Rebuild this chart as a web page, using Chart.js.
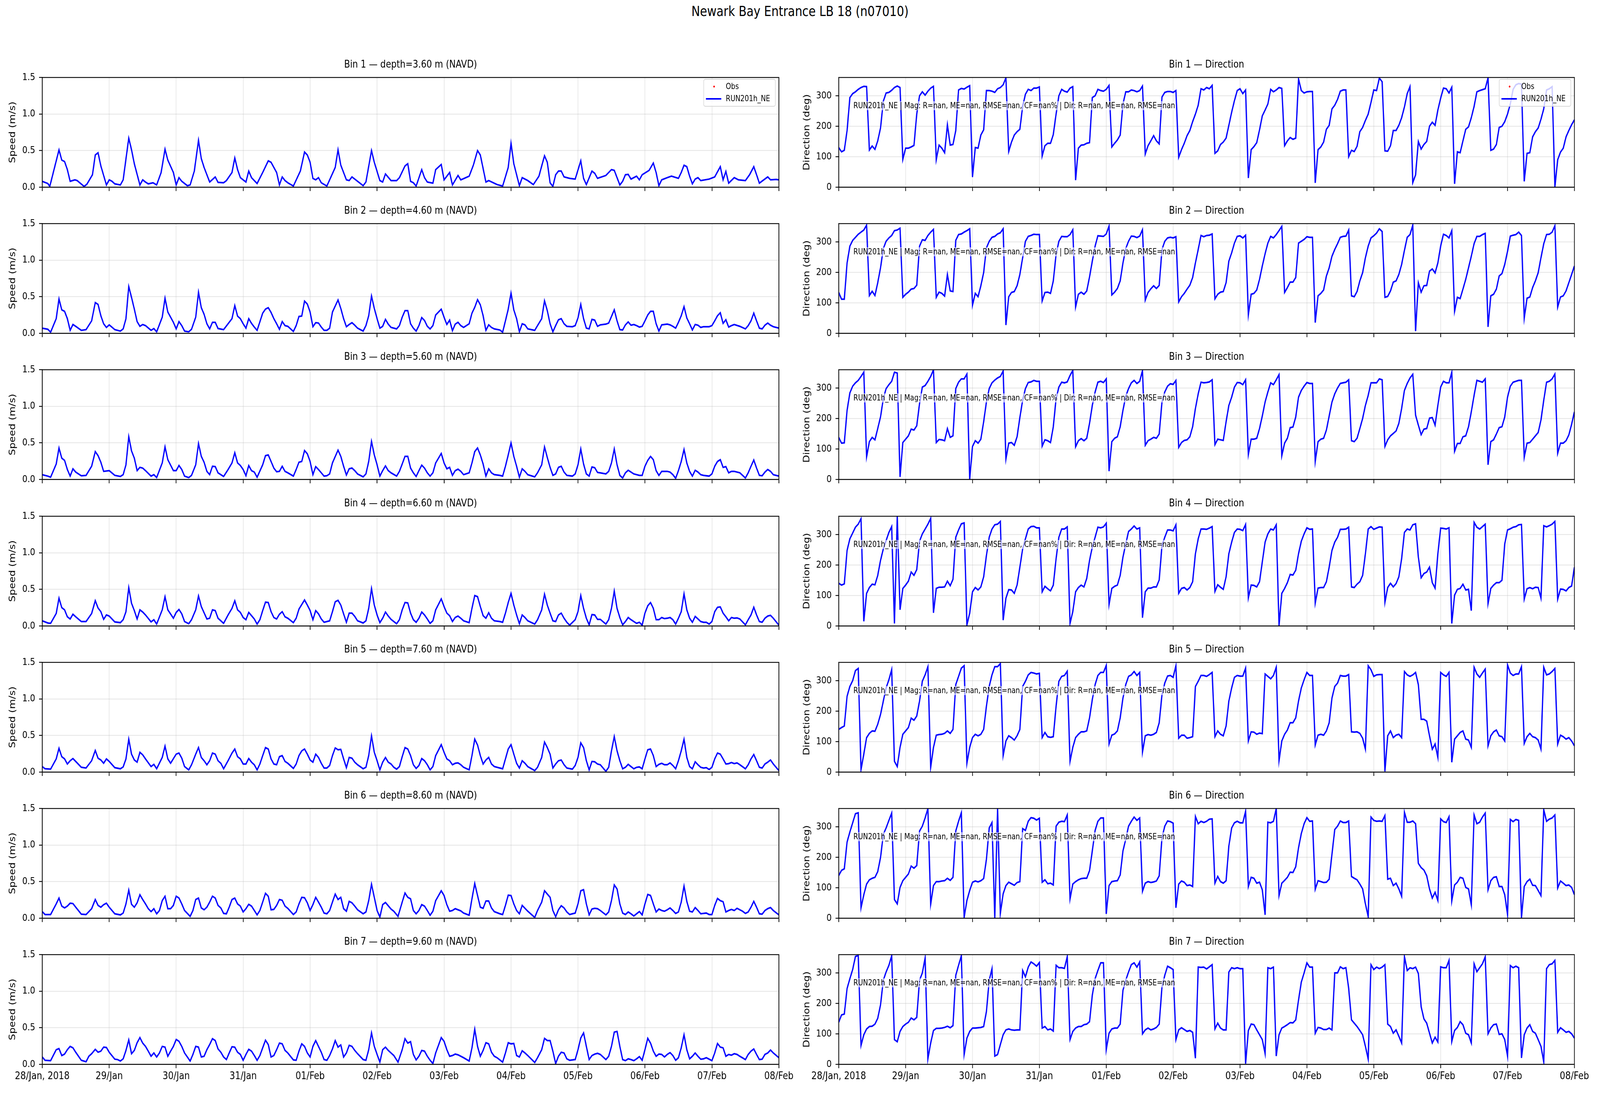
<!DOCTYPE html>
<html>
<head>
<meta charset="utf-8">
<script src="https://cdn.jsdelivr.net/npm/chart.js@4.4.1/dist/chart.umd.min.js"></script>
<style>
  html, body { margin: 0; padding: 0; background: #fff; overflow: hidden; }
  #wrap { position: relative; overflow: hidden; background: #fff; }
  #fig { position: absolute; left: 0; top: 0; width: 5000px; height: 2800px; background: #fff;
         transform-origin: 0 0; font-family: 'DejaVu Sans', sans-serif; color: #000; }
  #fig canvas { position: absolute; }
  .txt { position: absolute; white-space: nowrap; line-height: 1; }
  .legend { position: absolute; box-sizing: border-box; background: rgba(255,255,255,0.8);
            border: 2px solid rgba(204,204,204,0.8); border-radius: 6px; padding-top: 2px; }
  .lrow { position: relative; height: 31px; font-size: 21px; line-height: 31px; }
  .lrow span.lab { position: absolute; left: 68px; }
  .dot { position: absolute; left: 29px; top: 13px; width: 5px; height: 5px; border-radius: 50%; background: #ff0000; }
  .lline { position: absolute; left: 6px; top: 14px; width: 48px; height: 4px; background: #0000ff; }
  .stats { position: absolute; white-space: nowrap; font-size: 21px; line-height: 1;
           background: rgba(255,255,255,0.6); padding: 1px 2px; }
</style>
</head>
<body>
<div id="wrap"><div id="fig"></div></div>
<script>
// Labels / text
const figTitle = 'Newark Bay Entrance LB 18 (n07010)'
const bins = [1, 2, 3, 4, 5, 6, 7]
const depths = [3.60, 4.60, 5.60, 6.60, 7.60, 8.60, 9.60]
const dayTicks = [0, 24, 48, 72, 96, 120, 144, 168, 192, 216, 240, 264]
const tickLabels = ['28/Jan, 2018', '29/Jan', '30/Jan', '31/Jan', '01/Feb', '02/Feb', '03/Feb',
  '04/Feb', '05/Feb', '06/Feb', '07/Feb', '08/Feb']
const speedTicks = [0, 0.5, 1.0, 1.5]
const dirTicks = [0, 100, 200, 300]
const legendLabels = ['Obs', 'RUN201h_NE']
const statsText = 'RUN201h_NE | Mag: R=nan, ME=nan, RMSE=nan, CF=nan% | Dir: R=nan, ME=nan, RMSE=nan'

// Speed (m/s): [hour since 28/Jan 00:00, value]
const speedBin1 = [[0,.08],[2,.05],[2.7,.01],[6,.51],[7,.37],[8,.35],[9,.24],[10,.08],[11.7,.1],[12.5,.09],[15,.01],[16,.04],[18,.17],[19,.44],[20,.47],[21,.29],[23,.03],[24,.1],[25,.08],[26,.045],[28,.03],[29,.1],[31,.67],[32,.51],[33,.32],[35,.03],[36,.1],[37,.07],[38,.045],[39.7,.06],[41,.03],[42.6,.2],[44,.52],[45,.37],[47,.2],[48,.03],[49,.13],[50,.08],[52,.02],[53,.03],[54.5,.22],[56,.64],[57,.39],[58,.27],[60,.07],[62,.14],[63,.065],[65,.06],[66,.09],[68,.2],[69,.4],[70,.24],[71,.13],[73,.07],[74,.22],[75,.13],[77,.05],[79,.2],[81,.36],[82,.34],[84,.2],[85,.03],[86,.14],[87,.09],[88,.06],[90,.015],[92.5,.22],[94,.48],[95,.44],[96,.34],[97,.12],[98,.1],[99,.13],[100,.06],[102,.015],[105,.27],[106,.51],[107,.3],[109,.1],[110,.09],[111,.14],[112,.11],[115,.02],[116,.07],[118,.5],[119,.34],[121,.09],[122,.07],[123,.18],[125,.09],[127,.09],[128,.13],[130,.29],[131,.32],[132,.08],[133,.06],[134,.015],[136,.24],[137,.13],[138,.07],[140,.055],[141,.24],[143,.31],[144,.1],[146,.2],[147,.03],[149,.16],[150,.1],[153,.15],[154.5,.3],[156,.5],[157,.44],[159,.07],[160,.09],[163,.035],[165,.015],[167,.27],[168,.6],[169,.32],[171,.02],[172,.13],[174,.09],[176,.035],[178,.15],[180,.43],[181,.34],[182,.06],[183,.01],[184,.17],[185,.22],[186,.22],[187,.14],[189,.12],[191,.11],[193,.36],[194,.12],[195,.035],[197,.22],[198,.19],[199,.12],[202,.16],[204,.24],[205,.23],[207,.03],[208,.08],[209,.17],[210,.175],[211,.11],[213,.15],[214,.1],[215,.17],[217.5,.23],[219,.33],[220,.2],[221,.02],[222,.1],[224,.13],[225.5,.15],[228,.12],[229,.2],[230,.3],[231,.28],[232,.15],[233,.045],[234,.11],[235,.13],[236,.09],[239,.11],[241,.14],[243,.28],[244,.1],[245,.215],[246,.055],[248,.13],[249.5,.1],[252,.09],[253.5,.17],[255,.28],[256,.17],[257,.055],[260,.14],[261,.1],[263,.105],[264,.1]]
const speedBin2 = [[0,.07],[2,.055],[3,.015],[5,.2],[6,.47],[7,.32],[8,.3],[9,.2],[10,.04],[11,.12],[12,.095],[14,.04],[15.7,.05],[17.7,.17],[19,.42],[20,.395],[21,.24],[22,.13],[23,.08],[24,.115],[26,.05],[28,.03],[29,.06],[30,.2],[31,.64],[32,.49],[33,.33],[34,.16],[35,.095],[36,.12],[37,.105],[39,.04],[40,.065],[41,.02],[43,.22],[44,.48],[45,.29],[47,.15],[48,.06],[49,.16],[50,.105],[51,.03],[52.5,.02],[53.5,.055],[55,.22],[56,.56],[57,.35],[58,.26],[59,.13],[60,.06],[61,.15],[62,.15],[63,.065],[65,.05],[66.6,.13],[68,.2],[69,.38],[70,.235],[71,.2],[72,.13],[73,.07],[74,.2],[75,.135],[76,.085],[77,.04],[79,.275],[80,.33],[81,.35],[82,.285],[83,.2],[84,.13],[85,.055],[86,.16],[87,.105],[88,.095],[90,.025],[91,.105],[92,.23],[93,.235],[94,.44],[95,.4],[96,.29],[97,.09],[98,.145],[99,.14],[100,.085],[101,.04],[102,.04],[103,.07],[104,.29],[106,.455],[107,.34],[108,.2],[109,.09],[110,.12],[111,.145],[112,.11],[113,.07],[115,.03],[116,.105],[117,.24],[118,.51],[119,.34],[120,.2],[121,.07],[122,.095],[123,.19],[124,.125],[125,.08],[127,.06],[128,.105],[129,.22],[130,.31],[131,.31],[132,.13],[133,.07],[134,.03],[135,.105],[136,.215],[137,.175],[138,.095],[139,.06],[140,.105],[141,.25],[143,.33],[144,.22],[145,.12],[146,.18],[147,.035],[148,.125],[149,.15],[150,.105],[151,.08],[153,.13],[154,.275],[155,.355],[156,.46],[157,.39],[158,.24],[159,.04],[160,.115],[161,.08],[162,.06],[164,.045],[165,.015],[166,.17],[167,.33],[168,.55],[169,.32],[170,.2],[171,.02],[172,.13],[173,.115],[174,.06],[176.5,.04],[177.5,.105],[179,.2],[180,.445],[181,.31],[182,.13],[183,.02],[184,.105],[185,.185],[186,.2],[187,.13],[188,.095],[190,.09],[191,.105],[192,.21],[193,.395],[194,.2],[195,.07],[196,.06],[197,.19],[198,.18],[199,.095],[200,.115],[202,.125],[203,.14],[204,.23],[205,.32],[206,.17],[207,.05],[208,.045],[209,.115],[210,.155],[211,.11],[212,.12],[213,.105],[214,.085],[215,.095],[216,.17],[217,.25],[218,.3],[219,.3],[220,.13],[221,.03],[222,.115],[224,.125],[225,.115],[226,.095],[227,.07],[228,.15],[229,.24],[230,.365],[231,.21],[232,.13],[233,.045],[234,.12],[235,.11],[236,.08],[237,.09],[239,.09],[240,.105],[241,.17],[242,.24],[243,.28],[244,.135],[245,.185],[246,.085],[247,.105],[248,.12],[250,.095],[252,.06],[253,.105],[254,.17],[255,.275],[256,.17],[257,.07],[258,.06],[259,.11],[260,.14],[261,.11],[262,.09],[264,.07]]
const speedBin3 = [[0,.065],[2,.045],[3,.03],[5,.21],[6,.43],[7,.29],[8,.26],[9,.135],[10,.045],[11,.145],[12,.1],[14,.05],[15.7,.055],[17.7,.18],[19,.38],[20,.325],[21,.235],[22,.11],[24,.12],[26,.055],[28,.04],[29,.065],[30,.2],[31,.585],[32,.39],[33,.29],[34,.12],[35,.165],[36,.155],[37,.12],[39,.045],[40,.065],[41,.025],[43,.225],[44,.445],[45,.27],[47,.12],[48,.12],[49,.19],[50,.135],[51,.045],[52.5,.025],[53.5,.055],[55,.2],[56,.49],[57,.315],[58,.235],[59,.11],[60,.065],[61,.18],[62,.175],[63,.09],[65,.04],[66.6,.135],[68,.225],[69,.365],[70,.225],[71,.19],[72,.135],[73,.05],[74,.19],[75,.12],[76,.1],[77,.03],[79,.2],[80,.325],[81,.335],[82,.245],[83,.155],[84,.105],[85,.11],[86,.18],[87,.11],[88,.09],[90,.045],[91,.135],[92,.235],[93,.245],[94,.395],[95,.35],[96,.245],[97,.065],[98,.175],[99,.135],[100,.09],[101,.045],[102,.05],[103,.075],[104,.225],[106,.4],[107,.315],[108,.18],[109,.06],[110,.145],[111,.155],[112,.12],[113,.075],[115,.035],[116,.075],[117,.245],[118,.52],[119,.335],[120,.2],[121,.045],[122,.12],[123,.185],[124,.12],[125,.09],[127,.045],[128,.11],[129,.21],[130,.315],[131,.315],[132,.155],[133,.09],[134,.04],[135,.12],[136,.195],[137,.155],[138,.09],[139,.045],[140,.09],[141,.225],[143,.355],[144,.225],[145,.145],[146,.165],[147,.055],[148,.12],[149,.14],[150,.11],[151,.065],[153,.09],[154,.225],[155,.38],[156,.43],[157,.335],[158,.21],[159,.045],[160,.145],[161,.09],[162,.065],[164,.055],[165,.045],[166,.18],[167,.335],[168,.5],[169,.315],[170,.18],[171,.03],[172,.145],[173,.11],[174,.065],[176.5,.035],[177.5,.09],[179,.2],[180,.445],[181,.3],[182,.165],[183,.055],[184,.075],[185,.165],[186,.18],[187,.1],[188,.055],[190,.045],[191,.075],[192,.2],[193,.415],[194,.21],[195,.075],[196,.045],[197,.17],[198,.16],[199,.095],[200,.09],[202,.075],[203,.11],[204,.225],[205,.415],[206,.2],[207,.055],[208,.02],[209,.09],[210,.125],[211,.1],[212,.075],[214,.055],[215,.055],[216,.18],[217,.26],[218,.315],[219,.27],[220,.12],[221,.055],[222,.11],[224,.11],[225,.1],[226,.065],[227,.015],[228,.12],[229,.245],[230,.41],[231,.225],[232,.11],[233,.045],[234,.125],[235,.1],[236,.065],[237,.055],[239,.045],[240,.075],[241,.18],[242,.245],[243,.27],[244,.165],[245,.175],[246,.09],[247,.11],[248,.11],[250,.09],[252,.02],[253,.09],[254,.18],[255,.265],[256,.155],[257,.055],[258,.05],[259,.1],[260,.135],[261,.11],[262,.065],[264,.045]]
const speedBin4 = [[0,.07],[2,.04],[3,.035],[5,.17],[6,.38],[7,.25],[8,.22],[9,.125],[10,.095],[11,.16],[12,.125],[14,.06],[15.7,.06],[17.7,.17],[19,.345],[20,.245],[21,.195],[22,.09],[23,.15],[24,.135],[26,.055],[28,.045],[29,.085],[30,.195],[31,.525],[32,.31],[33,.21],[34,.095],[35,.22],[36,.19],[37,.15],[39,.055],[40,.085],[41,.025],[43,.22],[44,.4],[45,.22],[47,.105],[48,.185],[49,.225],[50,.165],[51,.06],[52.5,.03],[53.5,.085],[55,.22],[56,.41],[57,.265],[59,.095],[60,.105],[61,.22],[62,.21],[63,.105],[65,.035],[66.6,.15],[68,.24],[69,.345],[70,.22],[71,.185],[72,.115],[73,.085],[74,.185],[75,.14],[76,.095],[77,.025],[78,.085],[79,.21],[80,.325],[81,.32],[82,.195],[83,.115],[84,.095],[85,.16],[86,.195],[87,.125],[88,.105],[90,.045],[91,.105],[92,.23],[94,.355],[95,.285],[96,.21],[97,.085],[98,.21],[99,.165],[100,.095],[101,.05],[103,.07],[104,.195],[105,.33],[106,.35],[107,.285],[108,.165],[109,.05],[110,.175],[111,.175],[112,.13],[113,.07],[115,.04],[116,.07],[117,.24],[118,.51],[119,.285],[120,.15],[121,.045],[122,.105],[123,.19],[124,.135],[125,.09],[127,.03],[128,.085],[129,.22],[130,.32],[131,.315],[132,.175],[133,.085],[134,.05],[135,.105],[136,.19],[137,.15],[138,.095],[139,.035],[140,.07],[141,.22],[143,.37],[144,.265],[145,.175],[146,.14],[147,.06],[148,.115],[149,.135],[150,.105],[151,.07],[153,.045],[154,.24],[155,.415],[156,.4],[157,.265],[158,.14],[159,.105],[160,.18],[161,.105],[162,.07],[164,.06],[165,.05],[166,.175],[167,.32],[168,.445],[169,.285],[170,.15],[171,.03],[172,.15],[173,.115],[174,.07],[176.5,.025],[177.5,.085],[179,.22],[180,.435],[181,.285],[182,.175],[183,.07],[184,.06],[185,.15],[186,.175],[187,.105],[188,.05],[189,.01],[191,.085],[192,.195],[193,.415],[194,.24],[195,.105],[196,.015],[197,.155],[198,.15],[199,.09],[200,.09],[202,.025],[203,.085],[204,.24],[205,.475],[206,.24],[207,.115],[208,.015],[209,.06],[210,.115],[211,.085],[212,.06],[213,.035],[214,.05],[215,.01],[216,.175],[217,.275],[218,.32],[219,.24],[220,.085],[221,.085],[222,.115],[223,.1],[224,.105],[225,.115],[226,.085],[227,.025],[228,.105],[229,.195],[230,.44],[231,.22],[232,.105],[233,.05],[234,.13],[235,.095],[236,.06],[237,.05],[238,.05],[239,.025],[240,.06],[241,.195],[242,.255],[243,.26],[244,.175],[245,.125],[246,.07],[247,.115],[248,.105],[249,.11],[250,.095],[252,.015],[253,.085],[254,.15],[255,.255],[256,.15],[257,.06],[258,.05],[259,.105],[260,.135],[261,.145],[262,.105],[264,.01]]
const speedBin5 = [[0,.075],[1,.045],[3,.04],[5,.18],[6,.325],[7,.21],[8,.18],[9,.11],[10,.155],[11,.185],[12,.145],[14,.065],[15.7,.055],[17.7,.155],[19,.295],[20,.19],[21,.165],[22,.12],[23,.18],[24,.145],[26,.06],[28,.045],[29,.07],[30,.18],[31,.45],[32,.245],[33,.165],[34,.135],[35,.27],[36,.235],[37,.18],[39,.075],[40,.105],[41,.045],[43,.2],[44,.355],[45,.18],[46,.12],[48,.245],[49,.26],[50,.19],[51,.075],[52.5,.03],[53.5,.1],[55,.245],[56,.335],[57,.2],[58,.155],[59,.1],[60,.155],[61,.26],[62,.245],[63,.155],[64,.12],[65,.045],[66.6,.155],[68,.26],[69,.315],[70,.21],[71,.18],[72,.11],[73,.11],[74,.185],[75,.135],[76,.1],[77,.03],[78,.11],[79,.225],[80,.335],[81,.315],[82,.18],[83,.11],[84,.1],[85,.21],[86,.225],[87,.145],[88,.12],[90,.05],[91,.11],[92,.225],[93,.29],[94,.315],[95,.245],[96,.165],[97,.135],[98,.245],[99,.2],[100,.12],[101,.055],[102,.055],[103,.09],[104,.225],[105,.33],[106,.305],[107,.31],[108,.18],[109,.06],[110,.2],[111,.19],[112,.135],[113,.1],[115,.045],[116,.065],[117,.225],[118,.495],[119,.27],[120,.155],[121,.03],[122,.135],[123,.2],[124,.135],[125,.11],[126,.065],[127,.04],[128,.075],[129,.21],[130,.335],[131,.315],[132,.225],[133,.1],[134,.05],[135,.09],[136,.185],[137,.155],[138,.1],[139,.03],[140,.075],[141,.225],[143,.375],[144,.27],[145,.18],[146,.155],[147,.1],[148,.12],[149,.125],[150,.1],[151,.065],[153,.03],[154,.225],[155,.45],[156,.37],[157,.225],[158,.11],[159,.165],[160,.2],[161,.11],[162,.075],[164,.055],[165,.045],[166,.18],[167,.315],[168,.375],[169,.245],[170,.12],[171,.055],[172,.155],[173,.12],[174,.075],[176.5,.02],[177.5,.065],[179,.2],[180,.41],[181,.335],[182,.245],[183,.055],[184,.11],[185,.155],[186,.165],[187,.1],[188,.055],[190,.04],[191,.09],[192,.2],[193,.4],[194,.335],[195,.155],[196,.03],[197,.145],[198,.14],[199,.11],[200,.1],[202,.01],[203,.065],[204,.29],[205,.485],[206,.29],[207,.155],[208,.045],[209,.065],[210,.105],[211,.075],[212,.045],[213,.065],[214,.07],[215,.045],[216,.18],[217,.305],[218,.315],[219,.225],[220,.075],[221,.105],[222,.12],[223,.1],[224,.1],[225,.125],[226,.09],[227,.045],[228,.155],[229,.29],[230,.45],[231,.2],[232,.075],[233,.045],[234,.14],[235,.1],[236,.065],[237,.055],[238,.06],[239,.035],[240,.065],[241,.18],[242,.26],[243,.245],[244,.18],[245,.11],[246,.115],[247,.13],[248,.115],[249,.125],[250,.1],[252,.045],[253,.1],[254,.18],[255,.24],[256,.155],[257,.065],[258,.055],[259,.11],[260,.135],[261,.165],[262,.11],[264,.02]]
const speedBin6 = [[0,.09],[1,.05],[3,.05],[5,.195],[6,.275],[7,.165],[8,.14],[9,.165],[10,.205],[11,.2],[12,.15],[14,.055],[15.7,.05],[17.7,.13],[19,.255],[20,.175],[21,.15],[22,.185],[23,.205],[24,.15],[26,.06],[28,.045],[29,.07],[30,.195],[31,.385],[32,.19],[33,.15],[34,.21],[35,.32],[36,.255],[37,.195],[38,.13],[39,.09],[40,.13],[41,.06],[42,.105],[43,.24],[44,.3],[45,.13],[46,.13],[47,.175],[48,.3],[49,.275],[50,.195],[51,.105],[53,.025],[54,.105],[55,.255],[56,.275],[57,.14],[58,.115],[59,.15],[60,.22],[61,.3],[62,.275],[63,.175],[64,.14],[65,.065],[66,.06],[67,.15],[68,.255],[69,.275],[70,.195],[71,.165],[72,.085],[73,.13],[74,.19],[75,.165],[76,.105],[77,.045],[78,.105],[79,.22],[80,.34],[81,.3],[82,.115],[83,.12],[84,.175],[85,.255],[86,.245],[87,.165],[88,.135],[90,.05],[91,.085],[92,.195],[93,.285],[94,.28],[95,.21],[96,.105],[97,.185],[98,.285],[99,.22],[100,.15],[101,.07],[102,.06],[103,.105],[104,.22],[105,.33],[106,.255],[107,.285],[108,.13],[109,.095],[110,.23],[111,.21],[112,.165],[113,.115],[115,.06],[116,.085],[117,.24],[118,.465],[119,.285],[120,.105],[121,.015],[122,.185],[123,.215],[124,.17],[125,.125],[126,.095],[127.5,.025],[129,.22],[130,.345],[131,.285],[132,.265],[133,.105],[134,.06],[135,.105],[136,.185],[137,.165],[138,.105],[139,.04],[140,.095],[141,.24],[143,.375],[144,.31],[145,.185],[146,.095],[147,.105],[148,.13],[149,.115],[150,.1],[151,.07],[153,.04],[154,.265],[155,.475],[156,.31],[157,.15],[158,.135],[159,.235],[160,.235],[161,.14],[162,.09],[164,.06],[165,.05],[166,.175],[167,.315],[168,.31],[169,.195],[170,.105],[171,.06],[172,.175],[173,.135],[174,.095],[176.5,.01],[177.5,.105],[179,.22],[180,.375],[181,.33],[182,.285],[183,.105],[184,.02],[185,.115],[186,.17],[187,.14],[188,.085],[189,.05],[190,.06],[191,.07],[192,.195],[193,.375],[194,.39],[195,.195],[196,.045],[197,.125],[198,.135],[199,.13],[200,.105],[202,.045],[203,.085],[204,.24],[205,.455],[206,.4],[207,.195],[208,.07],[209,.05],[210,.085],[211,.06],[212,.03],[213,.06],[214,.09],[215,.045],[216,.195],[217,.325],[218,.31],[219,.195],[220,.085],[221,.125],[222,.105],[223,.095],[224,.115],[225,.14],[226,.105],[227,.065],[228,.085],[229,.22],[230,.44],[231,.23],[232,.095],[233,.085],[234,.145],[235,.105],[236,.06],[237,.065],[238,.07],[239,.05],[240,.05],[241,.175],[242,.27],[243,.24],[244,.225],[245,.085],[246,.105],[247,.12],[248,.105],[249,.135],[250,.115],[251,.095],[252,.065],[253,.085],[254,.15],[255,.23],[256,.15],[257,.06],[258,.055],[259,.105],[260,.13],[261,.145],[262,.105],[264,.045]]
const speedBin7 = [[0,.1],[1,.055],[3,.05],[5,.2],[6,.215],[7,.12],[8,.14],[9,.2],[10,.245],[11,.225],[12,.165],[14,.055],[15.7,.035],[16.7,.11],[17.7,.145],[19,.205],[20,.165],[21,.18],[22,.235],[23,.23],[24,.165],[26,.07],[27,.065],[28,.045],[29,.075],[30,.19],[31,.335],[32,.145],[33,.19],[34,.295],[35,.365],[36,.29],[37,.245],[38,.18],[39,.11],[40,.155],[41,.1],[42,.155],[43,.245],[44,.235],[45,.11],[46,.18],[47,.245],[48,.34],[49,.315],[50,.245],[51,.155],[53,.045],[54,.135],[55,.245],[56,.235],[57,.1],[58,.11],[59,.2],[60,.27],[61,.35],[62,.325],[63,.21],[64,.165],[65,.1],[66,.065],[67,.155],[68,.24],[69,.235],[70,.165],[71,.135],[72,.055],[73,.135],[74,.205],[75,.18],[76,.12],[77,.055],[78,.12],[79,.225],[80,.33],[81,.27],[82,.1],[83,.12],[84,.2],[85,.29],[86,.28],[87,.19],[88,.155],[90,.06],[91,.055],[92,.18],[93,.28],[94,.245],[95,.155],[96,.1],[97,.245],[98,.325],[99,.245],[100,.165],[101,.065],[102,.055],[103,.12],[104,.21],[105,.325],[106,.235],[107,.265],[108,.1],[109,.155],[110,.26],[111,.245],[112,.19],[113,.145],[115,.065],[116,.055],[117,.2],[118,.43],[119,.245],[120,.135],[121,.03],[122,.2],[123,.235],[124,.19],[125,.155],[126,.12],[127.5,.03],[129,.2],[130,.35],[131,.29],[132,.31],[133,.135],[134,.06],[135,.11],[136,.19],[137,.18],[138,.11],[139,.055],[140,.01],[141,.155],[143,.365],[144,.315],[145,.2],[146,.11],[147,.12],[148,.14],[149,.13],[150,.11],[151,.09],[153,.045],[154,.225],[155,.48],[156,.245],[157,.11],[158,.19],[159,.295],[160,.28],[161,.165],[162,.11],[163,.09],[165,.03],[166,.155],[167,.295],[168,.28],[169,.285],[170,.12],[171,.1],[172,.185],[173,.155],[174,.12],[176.5,.025],[177.5,.09],[179,.2],[180,.355],[181,.325],[182,.325],[183,.18],[184,.01],[185,.11],[186,.165],[187,.155],[188,.075],[189,.055],[191,.065],[192,.2],[193,.36],[194,.43],[195,.245],[196,.065],[197,.12],[198,.14],[199,.15],[200,.135],[202,.065],[203,.11],[204,.245],[205,.44],[206,.45],[207,.245],[208,.065],[209,.05],[210,.075],[211,.065],[212,.05],[213,.075],[214,.105],[215,.055],[216,.2],[217,.355],[218,.29],[219,.18],[220,.11],[221,.14],[222,.135],[223,.1],[224,.135],[225,.16],[226,.12],[227,.055],[228,.09],[229,.225],[230,.405],[231,.2],[232,.075],[233,.11],[234,.155],[235,.11],[236,.07],[237,.075],[238,.09],[239,.07],[240,.05],[241,.155],[242,.285],[243,.235],[244,.225],[245,.11],[246,.135],[247,.125],[248,.145],[249,.135],[250,.11],[252,.065],[253,.135],[254,.18],[255,.21],[256,.135],[257,.065],[258,.07],[259,.135],[260,.155],[261,.195],[262,.155],[264,.09]]

// Direction (deg), hourly from 28/Jan 00:00 (one line per day)
const dirBin1 = [
  130,116,121,186,294,307,313,321,327,331,330,122,135,124,152,194,282,309,311,318,327,332,327,91,
  128,128,132,137,240,300,313,302,315,325,331,90,138,128,113,205,138,140,186,319,324,322,328,333,
  33,130,128,171,188,317,317,315,311,323,327,336,359,117,148,171,182,190,265,305,321,317,325,325,
  329,102,136,144,144,173,240,300,321,315,312,325,330,23,128,138,139,144,146,294,300,321,317,315,
  321,334,132,144,155,171,273,313,313,319,317,313,317,332,109,136,152,169,152,142,296,311,314,314,
  311,317,98,123,144,169,186,215,240,269,323,319,327,323,334,111,119,140,148,161,203,246,284,317,
  323,307,319,30,123,133,146,188,234,253,273,321,313,319,327,324,136,152,163,157,161,355,317,309,
  313,314,314,14,123,132,148,190,203,257,269,288,315,319,319,100,121,117,134,182,196,219,240,278,
  319,317,358,346,119,118,136,186,186,203,228,263,307,330,15,40,150,125,140,150,200,213,203,253,
  292,325,323,309,328,11,116,113,152,190,198,228,265,313,317,320,323,359,121,125,140,196,200,215,
  240,273,321,336,340,338,19,111,113,165,182,194,223,257,319,323,330,1,90,115,128,165,186,205,
  221]
const dirBin2 = [
  134,112,112,231,286,305,315,325,332,339,355,124,138,124,166,215,278,302,313,321,337,339,345,118,
  128,135,145,147,158,286,307,305,321,332,341,118,135,131,122,193,139,137,305,324,326,332,337,343,
  92,131,120,156,199,280,302,315,318,326,330,343,27,120,134,137,156,193,248,302,318,321,325,324,
  324,106,134,135,131,172,259,302,318,317,317,324,340,86,128,135,128,139,185,237,286,320,319,318,
  326,352,126,135,147,172,231,278,302,319,318,314,319,340,109,134,146,156,147,157,275,302,313,315,
  313,317,103,120,131,145,158,183,231,275,321,317,321,322,326,113,128,135,137,166,237,264,296,318,
  320,313,322,61,128,131,142,177,221,261,296,318,313,324,337,351,134,150,168,168,183,296,302,308,
  317,315,315,35,123,131,142,188,215,253,275,294,315,318,319,339,123,120,137,172,199,248,286,313,
  320,329,343,334,118,121,139,168,172,193,226,272,315,324,355,7,166,135,156,157,204,211,198,231,
  286,325,321,313,337,72,118,114,145,177,215,253,294,318,318,324,328,21,123,128,145,188,196,226,
  269,319,322,324,332,321,50,115,119,150,172,199,248,294,324,325,332,353,86,119,123,139,166,193,
  221]
const dirBin3 = [
  138,119,120,227,284,306,317,325,338,352,74,124,138,130,167,205,265,298,311,322,352,349,8,121,
  132,143,165,162,176,249,303,308,322,338,360,121,131,130,127,167,138,143,298,319,330,330,346,1,
  108,127,119,132,189,254,298,317,326,333,338,356,67,119,121,112,140,203,260,298,318,320,325,322,
  322,109,130,127,121,173,265,303,319,317,320,341,358,107,127,134,127,135,184,243,287,319,322,318,
  330,27,124,135,140,173,227,273,298,317,325,315,322,357,112,127,132,138,135,149,254,287,306,314,
  312,325,105,121,128,130,140,173,233,281,319,317,318,320,327,114,132,130,128,189,243,270,303,318,
  317,311,327,82,132,132,135,167,208,254,287,317,311,327,344,78,119,135,170,172,205,270,292,306,
  318,315,315,59,124,132,135,162,208,254,281,300,315,317,319,327,127,124,135,167,200,243,276,317,
  317,317,330,327,108,130,143,151,159,184,233,292,315,333,345,211,178,147,165,167,201,203,178,243,
  303,322,317,317,352,92,118,118,140,143,173,222,276,325,322,319,330,48,124,130,149,170,173,205,
  270,306,319,322,325,325,73,119,121,132,143,154,195,260,319,322,330,346,86,119,119,127,146,181,
  222]
const dirBin4 = [
  140,134,138,248,286,305,324,334,352,15,107,126,137,135,166,215,253,280,307,326,8,360,53,123,
  134,147,177,166,185,278,302,318,334,353,43,123,127,127,128,147,132,153,291,315,335,338,3,42,
  112,126,118,128,161,231,291,318,332,334,343,19,91,119,118,107,134,193,253,286,318,326,327,322,
  322,112,130,122,115,134,221,291,318,318,325,8,47,112,126,134,128,156,215,259,291,324,322,325,
  337,70,123,130,134,166,226,269,310,318,328,318,322,27,112,124,124,128,128,151,264,291,315,315,
  312,332,107,123,126,118,126,145,237,286,318,318,317,321,326,113,135,127,120,161,237,275,307,318,
  317,313,333,92,134,133,128,145,210,275,302,318,315,332,1,107,123,142,169,167,183,237,278,302,
  322,317,318,75,124,126,126,145,193,248,275,291,317,317,318,324,128,126,137,145,166,237,318,326,
  317,321,325,324,77,126,140,128,139,161,221,307,318,315,332,335,226,158,172,177,193,142,124,237,
  321,320,318,322,8,101,120,123,137,118,120,50,340,324,318,326,334,73,123,134,142,142,150,269,
  315,319,324,326,332,333,88,122,126,122,127,126,91,329,325,329,334,343,88,121,120,115,126,131,
  193]
const dirBin5 = [
  140,146,151,249,281,300,333,340,8,59,113,127,135,134,157,189,233,276,303,336,35,18,81,124,
  135,146,177,170,184,233,298,319,346,16,81,121,123,124,127,135,127,140,287,314,341,349,29,81,
  113,124,119,124,140,216,281,319,346,346,356,54,102,119,113,105,119,140,281,298,319,327,325,322,
  324,113,130,116,114,116,216,298,314,317,331,35,81,113,124,132,132,135,178,238,287,317,327,327,
  350,92,121,125,135,178,243,287,314,319,330,317,327,65,119,123,121,124,130,162,254,292,315,317,
  311,349,111,121,121,111,113,116,281,298,317,317,314,320,327,116,135,124,119,151,233,276,311,317,
  315,315,341,102,132,131,124,128,126,322,314,306,317,344,37,102,124,138,162,162,178,233,276,303,
  327,317,317,89,121,124,121,135,162,243,281,292,317,315,315,320,132,131,132,127,111,75,349,336,
  314,319,320,320,2,119,135,113,121,124,113,330,319,314,319,327,287,173,173,167,119,75,92,48,
  327,319,314,327,32,108,119,130,135,108,105,81,344,322,311,325,338,86,119,132,138,119,116,102,
  352,325,317,322,322,346,94,116,127,116,113,105,75,344,319,322,330,340,92,121,116,108,113,102,
  86]
const dirBin6 = [
  140,157,162,250,283,313,343,346,34,77,112,126,131,134,153,199,275,296,321,345,61,47,101,123,
  134,145,171,164,173,286,302,329,360,46,107,120,120,122,123,131,124,134,286,318,346,3,58,91,
  118,122,119,123,130,193,296,314,1,360,16,80,107,118,113,108,117,120,294,288,318,330,328,322,
  328,118,126,113,115,109,302,315,318,317,339,63,112,120,126,130,131,131,156,221,288,318,329,329,
  14,107,120,122,123,142,221,259,302,318,332,321,329,88,115,120,117,119,122,139,264,302,319,317,
  312,34,112,122,118,107,109,104,334,310,318,314,318,325,326,115,137,120,115,123,237,296,313,318,
  313,313,351,104,134,131,115,118,93,11,315,313,318,360,74,115,124,134,151,150,169,231,278,310,
  330,318,319,95,123,120,117,118,128,210,291,302,319,314,314,319,137,131,126,112,96,47,5,332,
  321,318,319,318,337,128,131,107,115,96,72,348,315,315,319,310,180,166,158,139,96,66,85,58,
  326,317,314,333,57,109,118,134,131,101,96,44,339,310,315,332,345,93,123,134,136,104,104,77,
  12,324,317,324,321,1,104,120,128,108,107,91,74,356,318,325,329,339,99,122,115,107,109,101,
  77]
const dirBin7 = [
  138,162,165,249,281,311,354,357,62,97,116,124,125,132,151,195,276,303,325,356,81,74,108,124,
  132,138,152,146,154,276,300,349,18,70,111,118,118,119,121,125,120,127,292,325,356,32,86,108,
  119,119,120,121,124,173,276,314,27,32,65,97,113,116,113,112,113,113,308,287,319,336,330,322,
  334,119,124,113,116,109,325,317,317,315,353,81,108,119,124,124,130,132,140,227,281,308,333,333,
  48,102,116,119,119,132,243,276,303,327,333,319,336,100,113,119,113,116,121,132,254,292,322,317,
  311,81,113,120,114,108,111,105,20,319,318,319,313,320,327,116,135,119,113,113,303,317,314,317,
  314,314,2,111,132,130,113,97,81,35,317,314,319,27,97,119,124,130,137,136,146,211,270,300,
  333,319,319,102,121,119,114,114,119,113,300,300,320,314,317,249,146,135,124,111,97,59,17,327,
  311,319,314,319,327,132,124,102,113,92,70,354,308,317,314,319,298,189,149,135,102,70,89,73,
  320,317,317,341,75,111,121,140,130,102,97,70,330,304,317,330,353,100,119,130,132,98,100,81,
  27,324,317,322,317,21,97,119,130,108,102,81,59,8,314,327,330,341,105,120,113,105,108,100,
  86]

const speedSeries = [speedBin1, speedBin2, speedBin3, speedBin4, speedBin5, speedBin6, speedBin7]
const dirSeries = [dirBin1, dirBin2, dirBin3, dirBin4, dirBin5, dirBin6, dirBin7]

// Layout (in pixels of the 5000 x 2800 figure)
const FIG_W = 5000, FIG_H = 2800
const FONT = "'DejaVu Sans', sans-serif"
const ROW_TOP = 191, ROW_STEP = 374.2, PLOT_H = 288
const PAD_TOP = 20, PAD_RIGHT = 60, XAXIS_H = 70
const cols = [
  { plotLeft: 132, plotW: 2302, lpad: 132, titlePad: 25, yTitle: 'Speed (m/s)' },
  { plotLeft: 2621, plotW: 2299, lpad: 130, titlePad: 16, yTitle: 'Direction (deg)' }
]

// stretch the figure over the whole window (the window may be narrower than asked)
const vw = window.innerWidth || FIG_W
const vh = window.innerHeight || FIG_H
const sx = vw / FIG_W
const sy = vh / FIG_H
const wrap = document.getElementById('wrap')
wrap.style.width = vw + 'px'
wrap.style.height = vh + 'px'
const fig = document.getElementById('fig')
fig.style.transform = 'scale(' + sx + ',' + sy + ')'
const pixelRatio = (window.devicePixelRatio || 1) * Math.max(sx, sy)

function addText(text, css) {
  const d = document.createElement('div')
  d.className = 'txt'
  d.textContent = text
  Object.assign(d.style, css)
  fig.appendChild(d)
  return d
}

// box round the plot area, like the matplotlib spines
const framePlugin = {
  id: 'frame',
  afterDatasetsDraw(chart) {
    const { ctx, chartArea: a } = chart
    ctx.save()
    ctx.strokeStyle = '#000'
    ctx.lineWidth = 2.2
    ctx.strokeRect(a.left, a.top, a.right - a.left, a.bottom - a.top)
    ctx.restore()
  }
}

function makePanel(row, colIdx) {
  const col = cols[colIdx]
  const top = ROW_TOP + row * ROW_STEP
  const isSpeed = colIdx === 0
  const isBottom = row === bins.length - 1

  const canvas = document.createElement('canvas')
  const w = col.lpad + col.plotW + PAD_RIGHT
  const h = PAD_TOP + PLOT_H + XAXIS_H
  canvas.width = w
  canvas.height = h
  canvas.style.left = (col.plotLeft - col.lpad) + 'px'
  canvas.style.top = (top - PAD_TOP) + 'px'
  canvas.style.width = w + 'px'
  canvas.style.height = h + 'px'
  fig.appendChild(canvas)

  const points = isSpeed
    ? speedSeries[row].map(p => ({ x: p[0], y: p[1] }))
    : dirSeries[row].map((v, i) => ({ x: i, y: v }))

  const gridOpts = {
    color: 'rgba(176,176,176,0.3)', lineWidth: 2.2,
    tickColor: '#000', tickWidth: 2.2, tickLength: 10, drawTicks: true
  }
  const yTickVals = isSpeed ? speedTicks : dirTicks

  new Chart(canvas, {
    type: 'line',
    data: {
      datasets: [
        { label: legendLabels[0], data: [], showLine: false, pointRadius: 3, backgroundColor: '#ff0000', borderColor: '#ff0000' },
        { label: legendLabels[1], data: points, borderColor: '#0000ff', backgroundColor: '#0000ff',
          borderWidth: 4, pointRadius: 0, tension: 0, fill: false }
      ]
    },
    options: {
      responsive: false,
      animation: false,
      devicePixelRatio: pixelRatio,
      events: [],
      layout: { padding: { left: 0, top: PAD_TOP, right: PAD_RIGHT, bottom: 0 } },
      plugins: { legend: { display: false }, tooltip: { enabled: false }, title: { display: false } },
      scales: {
        x: {
          type: 'linear', min: 0, max: 264,
          afterBuildTicks: s => { s.ticks = dayTicks.map(v => ({ value: v })) },
          afterFit: s => { s.height = XAXIS_H },
          ticks: {
            autoSkip: false, maxRotation: 0, padding: 5, color: '#000',
            font: { family: FONT, size: 27 },
            callback: v => isBottom ? tickLabels[dayTicks.indexOf(v)] : ''
          },
          grid: gridOpts,
          border: { display: true, color: '#000', width: 2.2 }
        },
        y: {
          type: 'linear', min: 0, max: isSpeed ? 1.5 : 360,
          afterBuildTicks: s => { s.ticks = yTickVals.map(v => ({ value: v })) },
          afterFit: s => { s.width = col.lpad },
          ticks: {
            padding: 12, color: '#000',
            font: { family: FONT, size: 25.5 },
            callback: v => isSpeed ? v.toFixed(1) : String(v)
          },
          title: {
            display: true, text: col.yTitle, color: '#000',
            font: { family: FONT, size: 26 },
            padding: { top: col.titlePad, bottom: 0 }
          },
          grid: gridOpts,
          border: { display: true, color: '#000', width: 2.2 }
        }
      }
    },
    plugins: [framePlugin]
  })

  // subplot title
  const tText = isSpeed
    ? 'Bin ' + bins[row] + ' \u2014 depth=' + depths[row].toFixed(2) + ' m (NAVD)'
    : 'Bin ' + bins[row] + ' \u2014 Direction'
  addText(tText, {
    left: col.plotLeft + 'px', width: col.plotW + 'px', textAlign: 'center',
    top: (top - 41) + 'px', fontSize: '27px'
  })

  // stats annotation on direction panels
  if (!isSpeed) {
    const s = document.createElement('div')
    s.className = 'stats'
    s.textContent = statsText
    s.style.left = (col.plotLeft + 0.02 * col.plotW - 2) + 'px'
    s.style.top = (top + 68) + 'px'
    fig.appendChild(s)
  }

  // legend only on the first row
  if (row === 0) {
    const lg = document.createElement('div')
    lg.className = 'legend'
    const lw = 226, lh = 71
    lg.style.left = (col.plotLeft + col.plotW - 10 - lw) + 'px'
    lg.style.top = (top + 11) + 'px'
    lg.style.width = lw + 'px'
    lg.style.height = lh + 'px'
    legendLabels.forEach((lab, i) => {
      const r = document.createElement('div')
      r.className = 'lrow'
      const m = document.createElement('span')
      m.className = i === 0 ? 'dot' : 'lline'
      const t = document.createElement('span')
      t.className = 'lab'
      t.textContent = lab
      r.appendChild(m)
      r.appendChild(t)
      lg.appendChild(r)
    })
    fig.appendChild(lg)
  }
}

for (let r = 0; r < bins.length; r++) {
  makePanel(r, 0)
  makePanel(r, 1)
}

// figure title
addText(figTitle, { left: '0px', width: FIG_W + 'px', textAlign: 'center', top: '11px', fontSize: '36px' })
</script>
</body>
</html>
